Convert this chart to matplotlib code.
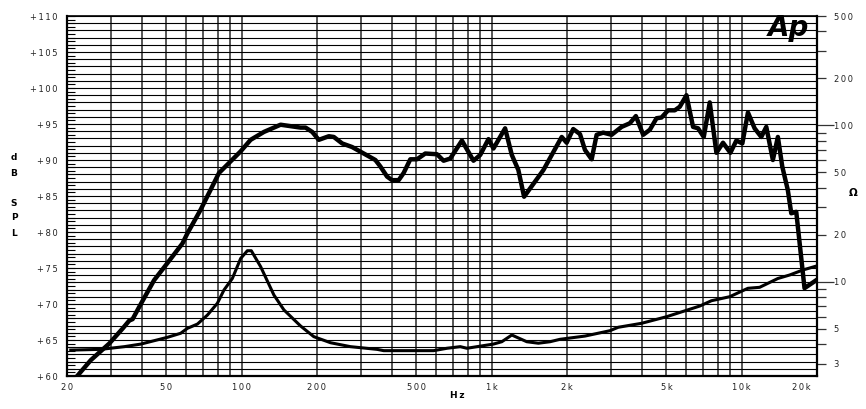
import matplotlib
matplotlib.use('Agg')
import matplotlib.pyplot as plt
from matplotlib.ticker import FixedLocator, FuncFormatter, MultipleLocator, NullFormatter, NullLocator

# ---------------- data ----------------
spl_freq = [22.1, 24.9, 29.5, 33.4, 35.5, 36.6, 38.9, 44.6, 49.7, 57.9, 60.6, 68.5, 81.1, 99,
            108.5, 122.7, 143, 171.9, 180, 191.4, 203.3, 223, 233.5, 252.2, 276.4, 307.6, 342.4,
            358.5, 381.3, 399.2, 424.3, 444.3, 472.4, 502.4, 542.2, 603.9, 641.6, 682.4, 759.7,
            845.1, 899.3, 970.2, 1016, 1131, 1203, 1278, 1347, 1609, 1905, 1994, 2118, 2254, 2360,
            2510, 2628, 2792, 3016, 3307, 3568, 3771, 4034, 4290, 4562, 4776, 5075, 5398, 5652,
            6010, 6386, 6688, 7048, 7448, 7919, 8414, 9006, 9516, 10056, 10588, 11258, 11972,
            12536, 13320, 13948, 14524, 15290, 15779, 16520, 17828, 19854]
spl_db = [60.1, 62.2, 64.5, 66.6, 67.7, 67.9, 69.6, 73.3, 75.4, 78.4, 79.8, 83.1, 88.2, 91.2,
          92.8, 93.9, 94.9, 94.5, 94.5, 93.9, 92.8, 93.3, 93.2, 92.3, 91.8, 90.9, 90.0,
          89.1, 87.7, 87.2, 87.2, 88.2, 90.1, 90.1, 90.9, 90.8, 89.9, 90.2, 92.7,
          89.9, 90.7, 92.9, 91.6, 94.4, 90.7, 88.6, 84.9, 88.6, 93.2, 92.4, 94.3, 93.6, 91.4,
          90.1, 93.5, 93.8, 93.5, 94.6, 95.1, 96.1, 93.5, 94.2, 95.8, 95.9, 96.9, 96.9, 97.4,
          99.0, 94.6, 94.4, 93.2, 98.0, 91.0, 92.4, 91.0, 92.7, 92.3, 96.6, 94.4, 93.2,
          94.6, 90.0, 93.2, 89.1, 85.8, 82.6, 82.8, 72.2, 73.3]

imp_freq = [20.7, 27.3, 33.9, 39.5, 50.5, 57.0, 60.6, 66.5, 72.9, 79.9, 84.9, 91.7, 99.0, 105.3,
            109.2, 119.0, 134.5, 147.5, 171.9, 194.2, 226.5, 272.2, 348.0, 369.8, 585.4, 662.2,
            748.4, 795.8, 1016, 1097, 1203, 1381, 1536, 1711, 1875, 2360, 2971, 3205, 3975,
            5000, 6793, 7565, 8950, 10585, 11788, 13948, 15536, 17561, 19854]
imp_ohm = [3.66, 3.70, 3.85, 4.00, 4.42, 4.69, 5.04, 5.37, 6.13, 7.29, 8.86, 10.5, 14.1, 15.8,
           15.8, 12.5, 8.23, 6.61, 5.22, 4.46, 4.08, 3.85, 3.70, 3.63, 3.63, 3.76,
           3.85, 3.76, 4.00, 4.14, 4.57, 4.14, 4.05, 4.14, 4.29, 4.50, 4.87, 5.12, 5.43,
           5.98, 7.00, 7.57, 8.03, 9.09, 9.22, 10.5, 11.05, 11.9, 12.6]

x_tick_vals = [20, 50, 100, 200, 500, 1000, 2000, 5000, 10000, 20000]
x_tick_labels = ['20', '50', '100', '200', '500', '1k', '2k', '5k', '10k', '20k']
ohm_major = [10, 100]
ohm_minor = [3, 4, 5, 6, 7, 8, 9, 20, 30, 40, 50, 60, 70, 80, 90, 200, 300, 400, 500]
ohm_labelled = [3, 5, 20, 50, 200, 500]


def spaced(s):
    return '\u2009'.join(s)


W, H = 866, 409
fig = plt.figure(figsize=(W / 100, H / 100), dpi=100)
ax = fig.add_axes([67 / W, 33 / H, 750 / W, 360 / H])
ax.set_xscale('log')
ax.set_xlim(20, 20000)
ax.set_ylim(60, 110)

grid_x = [m * 10 ** e for e in range(1, 5) for m in range(1, 10) if 20 <= m * 10 ** e <= 20000]
ax.xaxis.set_major_locator(FixedLocator(grid_x))
ax.xaxis.set_minor_locator(NullLocator())
ax.xaxis.set_major_formatter(NullFormatter())
ax.tick_params(axis='x', which='both', length=0)
ax.grid(axis='x', which='major', color='#3a3a3a', lw=1.2)

ax.yaxis.set_major_locator(MultipleLocator(1))
ax.yaxis.set_minor_locator(MultipleLocator(0.5))
ax.yaxis.set_major_formatter(FuncFormatter(
    lambda v, p: spaced('+%d' % round(v)) if round(v) % 5 == 0 else ''))
ax.grid(axis='y', which='major', color='black', lw=0.8)
ax.tick_params(axis='y', which='both', direction='in', length=6, width=0.8,
               color='black', labelcolor='#222222', labelsize=6, pad=7)
ax.set_axisbelow(True)

for v, lbl in zip(x_tick_vals, x_tick_labels):
    dx = -11.5 if lbl == '20k' else 0
    ax.annotate(spaced(lbl), xy=(v, 0), xycoords=('data', 'axes fraction'),
                xytext=(dx, -8.6), textcoords='offset points', ha='center', va='center',
                fontsize=6, color='#222222', annotation_clip=False)

ax.plot(spl_freq, spl_db, color='black', lw=3.2, zorder=5)

ax2 = ax.twinx()
ax2.set_yscale('log')
ax2.set_ylim(2.5, 500)
ax2.yaxis.set_major_locator(FixedLocator(ohm_major))
ax2.yaxis.set_minor_locator(FixedLocator(ohm_minor))
ax2.yaxis.set_major_formatter(FuncFormatter(lambda v, p: spaced('%d' % round(v))))
ax2.yaxis.set_minor_formatter(FuncFormatter(
    lambda v, p: spaced('%d' % round(v)) if round(v) in ohm_labelled else ''))
ax2.tick_params(axis='y', which='major', direction='out', length=12, width=0.9,
                color='#333333', labelcolor='#222222', labelsize=6, pad=0.5)
ax2.tick_params(axis='y', which='minor', direction='out', length=6.5, width=0.9,
                color='#333333', labelcolor='#222222', labelsize=6, pad=5.5)
ax2.plot(imp_freq, imp_ohm, color='black', lw=2.2, zorder=5)

for s in ['left', 'top', 'bottom']:
    ax2.spines[s].set_visible(False)
ax.spines['right'].set_visible(False)
ax2.spines['right'].set_linewidth(1.6)
ax.spines['left'].set_linewidth(1.6)
ax.spines['bottom'].set_linewidth(1.6)
ax.spines['top'].set_linewidth(1.2)

for ch, yp in zip('dBSPL', [158, 173, 203, 218, 233]):
    fig.text(14 / W, 1 - yp / H, ch, ha='center', va='center', fontsize=6.5,
             fontweight='bold', color='black')
fig.text(457 / W, 1 - 396 / H, spaced('Hz'), ha='center', va='center', fontsize=6.5,
         fontweight='bold')
fig.text(853 / W, 1 - 193 / H, 'Ω', ha='center', va='center', fontsize=7.5, fontweight='bold')
fig.text(788 / W, 1 - 36 / H, 'Ap', ha='center', va='baseline', fontsize=20,
         fontweight='bold', fontstyle='oblique', family='DejaVu Sans')

fig.savefig('out.png', dpi=100)
